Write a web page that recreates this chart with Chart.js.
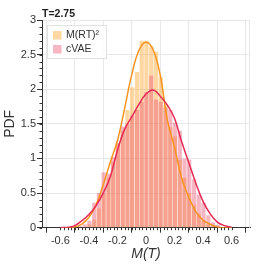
<!DOCTYPE html>
<html>
<head>
<meta charset="utf-8">
<script src="https://cdn.jsdelivr.net/npm/chart.js@4.4.0/dist/chart.umd.min.js"></script>
<style>
  body { margin: 0; background: #fff; }
  canvas { display: block; }
</style>
</head>
<body>
<canvas id="pdfChart" width="266" height="266"></canvas>
<script>
// histogram bins (centers)
const binCenters = [-0.463, -0.430, -0.397, -0.363, -0.330, -0.297, -0.263, -0.230, -0.197, -0.163,
                    -0.130, -0.097, -0.063, -0.030, 0.003, 0.037, 0.070, 0.103, 0.137, 0.170,
                    0.203, 0.237, 0.270, 0.303, 0.337, 0.370, 0.403, 0.437, 0.470, 0.503];
const mrtHist = [0.00, 0.01, 0.05, 0.12, 0.28, 0.50, 0.72, 0.95, 1.22, 1.40,
                 1.70, 2.03, 2.25, 2.70, 2.70, 2.62, 2.54, 2.18, 1.78, 1.45,
                 1.32, 0.98, 0.72, 0.50, 0.33, 0.20, 0.10, 0.05, 0.02, 0.00];
const cvaeHist = [0.02, 0.05, 0.10, 0.36, 0.50, 0.80, 0.78, 1.02, 1.22, 1.46,
                  1.50, 1.62, 1.70, 1.82, 1.96, 2.20, 1.85, 1.82, 1.74, 1.70,
                  1.52, 1.40, 1.00, 0.98, 0.70, 0.48, 0.36, 0.18, 0.08, 0.04];

// kde curves
const kdeX = [-0.60, -0.55, -0.50, -0.45, -0.40, -0.35, -0.30, -0.25, -0.20, -0.15, -0.10, -0.05, 0.00,
              0.05, 0.10, 0.15, 0.20, 0.25, 0.30, 0.35, 0.40, 0.45, 0.50, 0.55, 0.60];
const mrtKde = [0.00, 0.00, 0.01, 0.05, 0.15, 0.33, 0.62, 0.95, 1.26, 1.72, 2.21, 2.56, 2.68,
                2.57, 2.20, 1.55, 1.16, 0.72, 0.44, 0.23, 0.11, 0.05, 0.01, 0.00, 0.00];
const cvaeKde = [0.00, 0.005, 0.03, 0.10, 0.19, 0.32, 0.50, 0.74, 1.12, 1.42, 1.60, 1.78, 1.93,
                 1.99, 1.90, 1.77, 1.58, 1.24, 0.94, 0.64, 0.38, 0.20, 0.08, 0.03, 0.005];

const xTicks = [-0.6, -0.4, -0.2, 0, 0.2, 0.4, 0.6];
const yTicks = [0, 0.5, 1, 1.5, 2, 2.5, 3];
const seriesNames = ['M(RT)\u00b2', 'cVAE'];

const FONT = 'Liberation Sans, Arial, sans-serif';
const orangeBar = 'rgba(255, 175, 70, 0.5)';
const pinkBar = 'rgba(236, 95, 120, 0.45)';
const orangeLine = '#f7931e';
const redLine = '#e52a55';

const pts = (xs, ys) => xs.map((x, i) => ({x: x, y: ys[i]}));

// minor ticks + right border + title
const minorTicks = {
    id: 'minorTicks',
    beforeDatasetsDraw(chart) {
        const {ctx, chartArea} = chart;
        ctx.save();
        ctx.strokeStyle = '#e8e8e8';
        ctx.lineWidth = 1;
        ctx.beginPath();
        ctx.moveTo(chartArea.right - 0.5, chartArea.top);
        ctx.lineTo(chartArea.right - 0.5, chartArea.bottom);
        ctx.stroke();
        ctx.restore();
    },
    afterDraw(chart) {
        const {ctx, chartArea, scales: {x, y}} = chart;
        ctx.save();
        ctx.strokeStyle = '#333';
        ctx.lineWidth = 1;
        ctx.beginPath();
        for (let i = -24; i <= 24; i++) {
            const px = Math.round(x.getPixelForValue(i * 0.025)) + 0.5;
            ctx.moveTo(px, chartArea.bottom);
            ctx.lineTo(px, chartArea.bottom + 2.5);
        }
        for (let j = 0; j <= 30; j++) {
            const py = Math.round(y.getPixelForValue(j * 0.1)) + 0.5;
            ctx.moveTo(chartArea.left, py);
            ctx.lineTo(chartArea.left - 2.5, py);
        }
        ctx.stroke();

        ctx.fillStyle = '#222';
        ctx.font = 'bold 10.5px ' + FONT;
        ctx.textAlign = 'left';
        ctx.textBaseline = 'middle';
        ctx.fillText('T=2.75', chartArea.left, 14);
        ctx.restore();
    }
};

// legend box inside the plot
const legendBox = {
    id: 'legendBox',
    afterDatasetsDraw(chart) {
        const {ctx, chartArea} = chart;
        const bx = chartArea.left + 5, by = chartArea.top + 5;
        ctx.save();
        ctx.fillStyle = 'rgba(255,255,255,0.9)';
        ctx.fillRect(bx, by, 59, 33);
        ctx.strokeStyle = '#e2e2e2';
        ctx.lineWidth = 1;
        ctx.strokeRect(bx + 0.5, by + 0.5, 59, 33);
        const colors = [orangeBar, pinkBar];
        ctx.font = '10.5px ' + FONT;
        ctx.textBaseline = 'middle';
        ctx.textAlign = 'left';
        seriesNames.forEach((name, i) => {
            const yy = by + 6 + i * 14;
            ctx.fillStyle = colors[i];
            ctx.fillRect(bx + 6, yy, 8.5, 8.5);
            ctx.fillStyle = '#333';
            ctx.fillText(name, bx + 19, yy + 4.5);
        });
        ctx.restore();
    }
};

new Chart(document.getElementById('pdfChart'), {
    type: 'bar',
    data: {
        datasets: [
            {
                type: 'line',
                label: seriesNames[1] + ' kde',
                data: pts(kdeX, cvaeKde),
                borderColor: redLine,
                borderWidth: 1.5,
                pointRadius: 0,
                tension: 0.4,
                fill: false
            },
            {
                type: 'line',
                label: seriesNames[0] + ' kde',
                data: pts(kdeX, mrtKde),
                borderColor: orangeLine,
                borderWidth: 1.5,
                pointRadius: 0,
                tension: 0.4,
                fill: false
            },
            {
                label: seriesNames[1],
                data: pts(binCenters, cvaeHist),
                backgroundColor: pinkBar,
                grouped: false,
                barPercentage: 0.9,
                categoryPercentage: 1
            },
            {
                label: seriesNames[0],
                data: pts(binCenters, mrtHist),
                backgroundColor: orangeBar,
                grouped: false,
                barPercentage: 0.9,
                categoryPercentage: 1
            }
        ]
    },
    options: {
        responsive: false,
        animation: false,
        devicePixelRatio: 1,
        layout: { padding: { left: 0, right: 16, top: 20, bottom: 0 } },
        plugins: {
            legend: { display: false },
            tooltip: { enabled: false }
        },
        scales: {
            x: {
                type: 'linear',
                min: -0.625,
                max: 0.625,
                afterBuildTicks: s => { s.ticks = xTicks.map(v => ({value: v})); },
                afterFit: s => { s.height = 38.3; },
                ticks: {
                    callback: v => String(Math.round(v * 10) / 10),
                    font: { size: 11, family: FONT },
                    color: '#333',
                    padding: 2,
                    maxRotation: 0,
                    autoSkip: false
                },
                grid: { color: '#e8e8e8', tickColor: '#333', tickLength: 5 },
                border: { color: '#333' },
                title: {
                    display: true,
                    text: 'M(T)',
                    color: '#333',
                    font: { size: 14, style: 'italic', family: FONT },
                    padding: { top: 0, bottom: 3 }
                }
            },
            y: {
                min: 0,
                max: 3,
                afterBuildTicks: s => { s.ticks = yTicks.map(v => ({value: v})); },
                afterFit: s => { s.width = 42; },
                ticks: {
                    callback: v => String(v),
                    font: { size: 11, family: FONT },
                    color: '#333',
                    padding: 1
                },
                grid: { color: '#e8e8e8', tickColor: '#333', tickLength: 5 },
                border: { color: '#333' },
                title: {
                    display: true,
                    text: 'PDF',
                    color: '#333',
                    font: { size: 14, family: FONT },
                    padding: { top: 2, bottom: 0 }
                }
            }
        }
    },
    plugins: [minorTicks, legendBox]
});
</script>
</body>
</html>
